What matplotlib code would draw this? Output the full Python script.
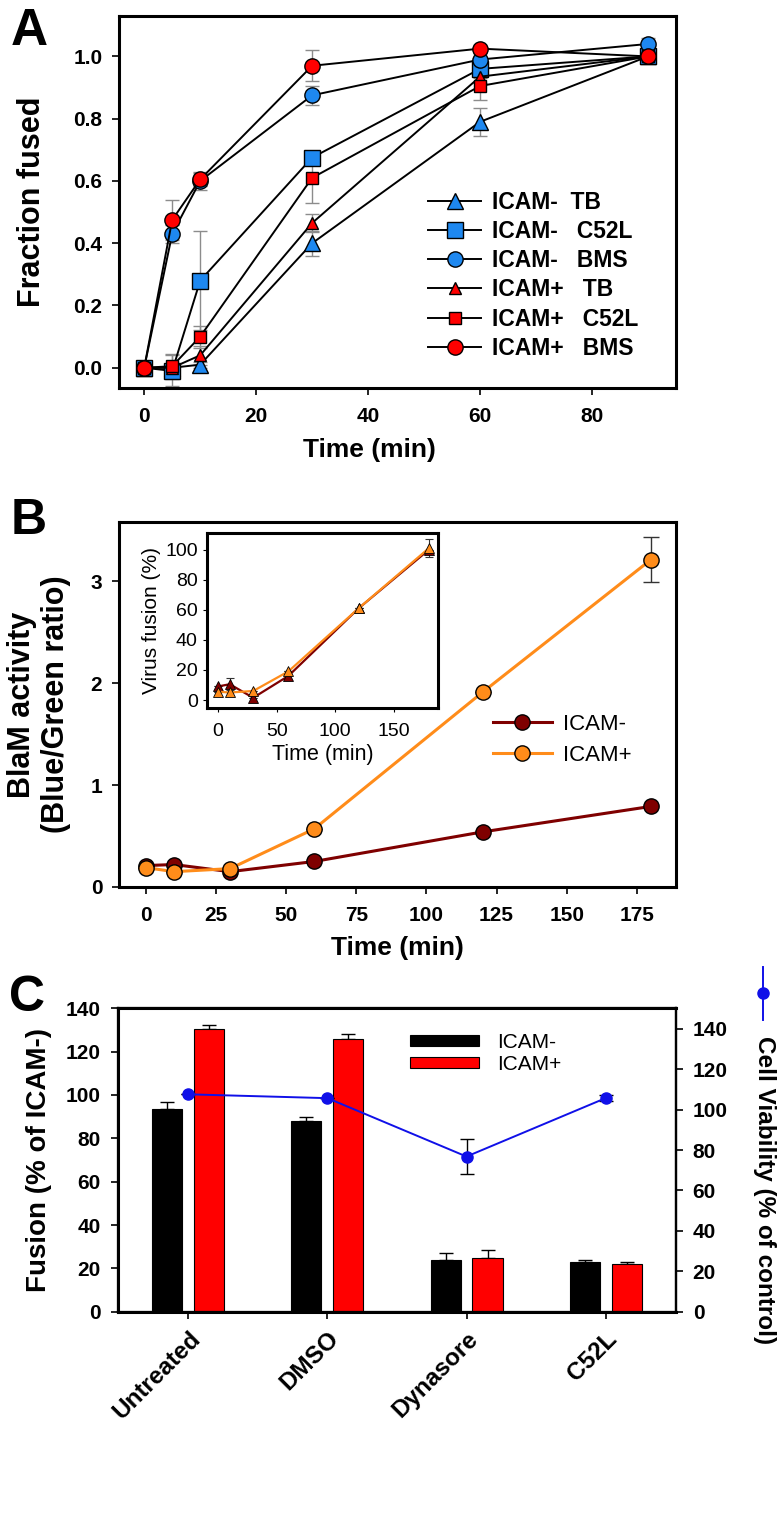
import numpy as np
import matplotlib
matplotlib.use('Agg')
import matplotlib.pyplot as plt
import matplotlib.ticker as ticker
from matplotlib.lines import Line2D

plt.rcParams.update({
    'font.family': ['Liberation Sans', 'DejaVu Sans'],
    'axes.linewidth': 2.2,
    'xtick.direction': 'out',
    'ytick.direction': 'out',
    'xtick.major.size': 5,
    'ytick.major.size': 5,
    'xtick.major.width': 1.2,
    'ytick.major.width': 1.2,
    'xtick.major.pad': 9,
    'ytick.major.pad': 7,
})

# ─── PANEL A DATA ────────────────────────────────────────────────────────────
time_a = [0, 5, 10, 30, 60, 90]
neg_tb = [0.0, 0.0, 0.01, 0.40, 0.79, 1.0]
neg_tb_err = [0.0, 0.0, 0.01, 0.04, 0.045, 0.0]
neg_c52l = [0.0, -0.01, 0.28, 0.675, 0.96, 1.0]
neg_c52l_err = [0.02, 0.05, 0.16, 0.02, 0.03, 0.0]
neg_bms = [0.0, 0.43, 0.60, 0.875, 0.99, 1.04]
neg_bms_err = [0.0, 0.03, 0.03, 0.03, 0.02, 0.02]
pos_tb = [0.0, 0.0, 0.04, 0.465, 0.935, 1.0]
pos_tb_err = [0.0, 0.0, 0.03, 0.03, 0.02, 0.0]
pos_c52l = [0.0, 0.005, 0.10, 0.61, 0.905, 1.0]
pos_c52l_err = [0.0, 0.04, 0.035, 0.08, 0.045, 0.0]
pos_bms = [0.0, 0.475, 0.605, 0.97, 1.025, 1.0]
pos_bms_err = [0.0, 0.065, 0.02, 0.05, 0.01, 0.0]

# ─── PANEL B DATA ────────────────────────────────────────────────────────────
time_b = [0, 10, 30, 60, 120, 180]
blam_neg = [0.21, 0.22, 0.15, 0.25, 0.54, 0.79]
blam_pos = [0.19, 0.15, 0.18, 0.57, 1.91, 3.21]
blam_pos_err = [0.0, 0.0, 0.0, 0.0, 0.0, 0.22]
inset_neg = [9, 10.5, 1.5, 16, 61, 100]
inset_neg_err = [0, 4, 0, 3, 0, 0]
inset_pos = [5.5, 5, 6, 19, 61, 101]
inset_pos_err = [0, 0, 0, 0, 0, 6]

# ─── PANEL C DATA ────────────────────────────────────────────────────────────
treatments = ['Untreated', 'DMSO', 'Dynasore', 'C52L']
fusion_neg = [93.4, 87.8, 24.0, 22.8]
fusion_neg_err = [3.4, 2.2, 3.0, 1.0]
fusion_pos = [130.3, 125.8, 24.8, 21.8]
fusion_pos_err = [1.8, 2.2, 3.7, 1.2]
viability = [107.6, 105.7, 76.8, 105.7]
viability_err = [0.0, 0.0, 8.5, 1.5]

BLUE = '#1E88F0'
RED = '#FF0000'
DKRED = '#7F0000'
ORANGE = '#FF8C1A'
VBLUE = '#1010E8'

fig = plt.figure(figsize=(7.82, 15.18), dpi=100)


def bold_ticks(ax, size=15):
    for lbl in ax.get_xticklabels() + ax.get_yticklabels():
        lbl.set_fontweight('bold')
        lbl.set_fontsize(size)


# ─── PANEL A ─────────────────────────────────────────────────────────────────
axA = fig.add_axes([0.1522, 0.7444, 0.7123, 0.2451])
series_a = [
    (neg_tb, neg_tb_err, BLUE, '^', 12, 'ICAM-  TB'),
    (neg_c52l, neg_c52l_err, BLUE, 's', 11, 'ICAM-   C52L'),
    (neg_bms, neg_bms_err, BLUE, 'o', 11, 'ICAM-   BMS'),
    (pos_tb, pos_tb_err, RED, '^', 8.5, 'ICAM+   TB'),
    (pos_c52l, pos_c52l_err, RED, 's', 8, 'ICAM+   C52L'),
    (pos_bms, pos_bms_err, RED, 'o', 11, 'ICAM+   BMS'),
]
for vals, err, col, mk, ms, lab in series_a:
    axA.errorbar(time_a, vals, yerr=err, fmt='none', ecolor='#8c8c8c',
                 elinewidth=1.0, capsize=5, capthick=1.0, zorder=2)
    axA.plot(time_a, vals, color='black', lw=1.4, marker=mk, ms=ms,
             mfc=col, mec='black', mew=1.0, label=lab, zorder=3)
axA.set_xlim(-4.5, 95)
axA.set_ylim(-0.065, 1.13)
axA.set_xticks([0, 20, 40, 60, 80])
axA.set_yticks([0.0, 0.2, 0.4, 0.6, 0.8, 1.0])
axA.yaxis.set_major_formatter(ticker.FormatStrFormatter('%.1f'))
bold_ticks(axA)
axA.set_xlabel('Time (min)', fontsize=19, fontweight='bold')
axA.xaxis.set_label_coords(0.45, -0.134)
axA.set_ylabel('Fraction fused', fontsize=22, fontweight='bold')
axA.yaxis.set_label_coords(-0.129, 0.5)
axA.legend(loc='upper left', bbox_to_anchor=(0.555, 0.53), frameon=False,
           prop={'size': 16.5, 'weight': 'bold'}, handlelength=2.3,
           labelspacing=0.27, handletextpad=0.48, borderpad=0, borderaxespad=0)

# ─── PANEL B ─────────────────────────────────────────────────────────────────
axB = fig.add_axes([0.1522, 0.4157, 0.7123, 0.2404])
axB.plot(time_b, blam_neg, color=DKRED, lw=2.2, marker='o', ms=11,
         mfc=DKRED, mec='black', mew=1.0, label='ICAM-', zorder=3)
axB.errorbar(time_b, blam_pos, yerr=blam_pos_err, fmt='none', ecolor='#333333',
             elinewidth=1.0, capsize=6, capthick=1.0, zorder=2)
axB.plot(time_b, blam_pos, color=ORANGE, lw=2.2, marker='o', ms=11,
         mfc=ORANGE, mec='black', mew=1.0, label='ICAM+', zorder=4)
axB.set_xlim(-9.6, 189)
axB.set_ylim(0, 3.58)
axB.set_xticks([0, 25, 50, 75, 100, 125, 150, 175])
axB.set_yticks([0, 1, 2, 3])
bold_ticks(axB)
axB.set_xlabel('Time (min)', fontsize=19, fontweight='bold')
axB.xaxis.set_label_coords(0.5, -0.134)
axB.set_ylabel('BlaM activity\n(Blue/Green ratio)', fontsize=22,
               fontweight='bold', linespacing=1.15)
axB.yaxis.set_label_coords(-0.087, 0.5)
axB.legend(loc='upper left', bbox_to_anchor=(0.671, 0.474), frameon=False,
           prop={'size': 16}, handlelength=2.65, labelspacing=0.44,
           handletextpad=0.5, borderpad=0, borderaxespad=0)

# inset
axI = fig.add_axes([0.2653, 0.5336, 0.2954, 0.1153])
for spine in axI.spines.values():
    spine.set_linewidth(2.2)
axI.errorbar(time_b, inset_neg, yerr=inset_neg_err, fmt='none', ecolor='#333333',
             elinewidth=0.8, capsize=3, capthick=0.8, zorder=2)
axI.plot(time_b, inset_neg, color=DKRED, lw=1.6, marker='^', ms=7,
         mfc=DKRED, mec='black', mew=0.6, zorder=3)
axI.errorbar(time_b, inset_pos, yerr=inset_pos_err, fmt='none', ecolor='#333333',
             elinewidth=0.8, capsize=3, capthick=0.8, zorder=2)
axI.plot(time_b, inset_pos, color=ORANGE, lw=1.6, marker='^', ms=7,
         mfc=ORANGE, mec='black', mew=0.6, zorder=4)
axI.set_xlim(-9, 188)
axI.set_ylim(-5.3, 111)
axI.set_xticks([0, 50, 100, 150])
axI.set_yticks([0, 20, 40, 60, 80, 100])
axI.tick_params(labelsize=14, length=3, width=0.8, pad=4)
axI.tick_params(axis='x', pad=8)
axI.set_xlabel('Time (min)', fontsize=15.5)
axI.xaxis.set_label_coords(0.5, -0.206)
axI.set_ylabel('Virus fusion (%)', fontsize=15)
axI.yaxis.set_label_coords(-0.2, 0.5)

# ─── PANEL C ─────────────────────────────────────────────────────────────────
axC = fig.add_axes([0.1503, 0.1359, 0.7142, 0.1999])
for spine in axC.spines.values():
    spine.set_linewidth(1.6)
x = np.arange(len(treatments))
w = 0.216
off = 0.151
axC.bar(x - off, fusion_neg, w, color='black', edgecolor='black', lw=0.8,
        label='ICAM-', zorder=2)
axC.bar(x + off, fusion_pos, w, color=RED, edgecolor='black', lw=0.8,
        label='ICAM+', zorder=2)
axC.errorbar(x - off, fusion_neg, yerr=[np.zeros(4), fusion_neg_err], fmt='none',
             ecolor='black', elinewidth=1.0, capsize=5, capthick=1.0, zorder=1)
axC.errorbar(x + off, fusion_pos, yerr=[np.zeros(4), fusion_pos_err], fmt='none',
             ecolor='black', elinewidth=1.0, capsize=5, capthick=1.0, zorder=1)
axC.set_xlim(-0.51, 3.507)
axC.set_ylim(0, 140)
axC.set_yticks(np.arange(0, 141, 20))
axC.set_xticks(x)
axC.tick_params(axis='x', pad=6)
axC.set_xticklabels(treatments, rotation=45, ha='right', rotation_mode='anchor',
                    fontsize=17.5, fontweight='bold')
for lbl in axC.get_yticklabels():
    lbl.set_fontweight('bold')
    lbl.set_fontsize(15)
axC.set_ylabel('Fusion (% of ICAM-)', fontsize=20, fontweight='bold')
axC.yaxis.set_label_coords(-0.117, 0.5)
axC.legend(loc='upper left', bbox_to_anchor=(0.524, 0.918), frameon=False,
           prop={'size': 15}, handlelength=3.3, handleheight=0.45,
           labelspacing=0.15, handletextpad=0.87, borderpad=0, borderaxespad=0)

axV = axC.twinx()
axV.spines['right'].set_linewidth(1.6)
axV.errorbar(x, viability, yerr=viability_err, color=VBLUE, lw=1.4,
             marker='o', ms=8, mfc=VBLUE, mec=VBLUE, ecolor='black',
             elinewidth=1.0, capsize=5, capthick=1.0, zorder=5)
axV.set_ylim(0, 150.2)
axV.set_yticks(np.arange(0, 141, 20))
for lbl in axV.get_yticklabels():
    lbl.set_fontweight('bold')
    lbl.set_fontsize(15)

# rotated right-axis label with its legend symbol above it
fig.text(0.978, 0.216, 'Cell Viability (% of control)', rotation=-90,
         fontsize=17.5, fontweight='bold', ha='center', va='center')
fig.add_artist(Line2D([0.9757, 0.9757], [0.3281, 0.3630], color=VBLUE,
                      lw=1.4, transform=fig.transFigure))
fig.add_artist(Line2D([0.9757], [0.3458], marker='o', ms=8, color=VBLUE,
                      transform=fig.transFigure))

# ─── PANEL LETTERS ───────────────────────────────────────────────────────────
fig.text(0.014, 0.979, 'A', fontsize=37, fontweight='bold', va='center')
fig.text(0.014, 0.6565, 'B', fontsize=36, fontweight='bold', va='center')
fig.text(0.012, 0.3425, 'C', fontsize=36, fontweight='bold', va='center')

fig.savefig('out.png', dpi=100)
